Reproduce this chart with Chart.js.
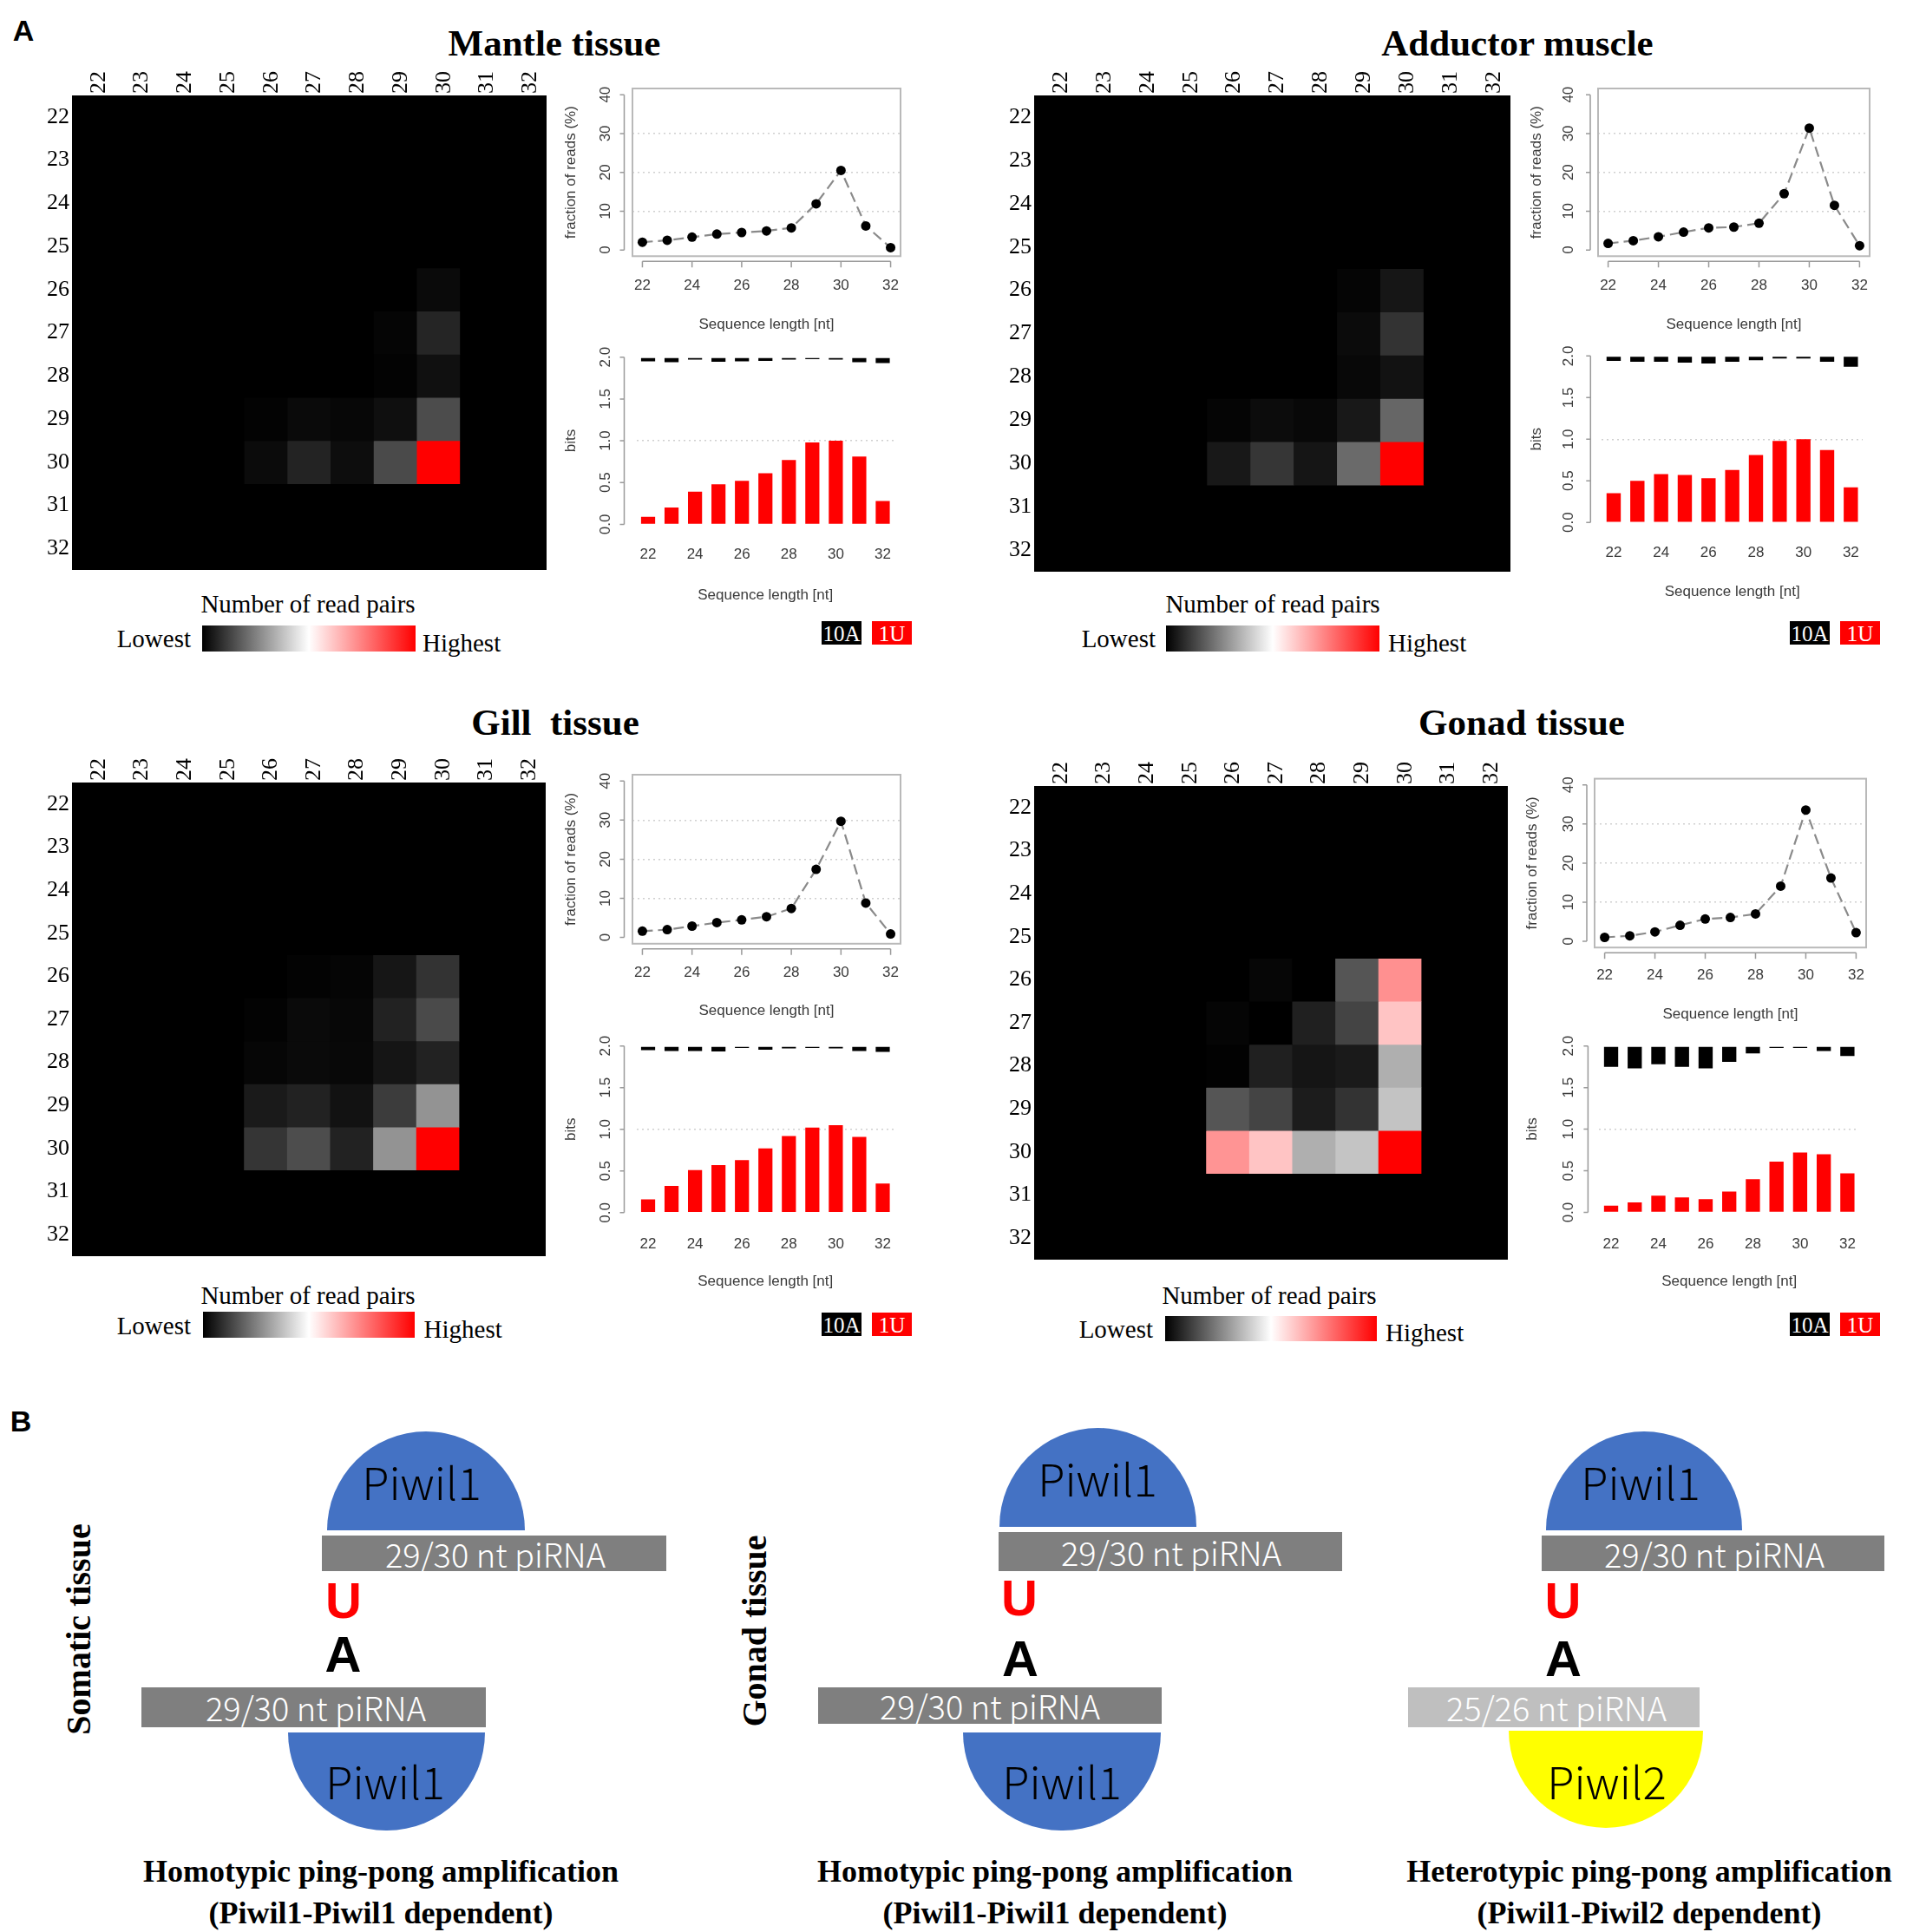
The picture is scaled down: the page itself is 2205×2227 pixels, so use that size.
<!DOCTYPE html>
<html>
<head>
<meta charset="utf-8">
<script src="https://cdn.jsdelivr.net/npm/chart.js@4.4.1/dist/chart.umd.min.js"></script>
<style>
body { margin: 0; background: #fff; }
#page { position: relative; width: 2205px; height: 2227px; overflow: hidden; background: #fff; }
#page canvas { position: absolute; }
.t { position: absolute; white-space: nowrap; line-height: 1; }
.box { position: absolute; }
</style>
</head>
<body>
<div id="page"></div>
<script>
// ---- data ----
const lengths = [22, 23, 24, 25, 26, 27, 28, 29, 30, 31, 32];
const evenTicks = [22, 24, 26, 28, 30, 32];
const fracTicks = [0, 10, 20, 30, 40];
const bitTicks = [0, 0.5, 1, 1.5, 2];
const A_TOP = 1.99;

// fraction of reads (%) per sequence length
const fracMantle   = [2.0, 2.5, 3.3, 4.1, 4.5, 4.9, 5.7, 11.9, 20.5, 6.2, 0.6];
const fracAdductor = [1.7, 2.4, 3.4, 4.6, 5.7, 5.9, 6.9, 14.5, 31.4, 11.5, 1.1];
const fracGill     = [1.6, 2.0, 2.9, 3.8, 4.5, 5.3, 7.4, 17.4, 29.7, 8.8, 0.9];
const fracGonad    = [1.0, 1.4, 2.4, 4.1, 5.7, 6.1, 7.0, 14.1, 33.6, 16.2, 2.2];

// bits of 1U (red bars)
const uMantle   = [0.09, 0.20, 0.39, 0.48, 0.52, 0.61, 0.77, 0.98, 1.00, 0.81, 0.28];
const uAdductor = [0.35, 0.50, 0.58, 0.57, 0.53, 0.63, 0.81, 0.98, 1.00, 0.87, 0.42];
const uGill     = [0.16, 0.32, 0.51, 0.57, 0.63, 0.77, 0.92, 1.02, 1.05, 0.91, 0.35];
const uGonad    = [0.08, 0.12, 0.20, 0.18, 0.16, 0.25, 0.40, 0.61, 0.72, 0.70, 0.47];

// lower edge of the 10A block (black), top at A_TOP
const aMantle   = [1.95, 1.94, 1.97, 1.945, 1.95, 1.955, 1.97, 1.975, 1.97, 1.94, 1.93];
const aAdductor = [1.94, 1.93, 1.93, 1.92, 1.91, 1.93, 1.95, 1.97, 1.97, 1.93, 1.87];
const aGill     = [1.95, 1.94, 1.94, 1.935, 1.975, 1.955, 1.97, 1.975, 1.97, 1.94, 1.93];
const aGonad    = [1.75, 1.73, 1.78, 1.75, 1.73, 1.81, 1.91, 1.975, 1.975, 1.94, 1.88];

// relative number of read pairs (0-100), rows = 22..32, cols = 22..32
const heatMantle = [
  [0, 0, 0, 0, 0, 0, 0, 0, 0, 0, 0],
  [0, 0, 0, 0, 0, 0, 0, 0, 0, 0, 0],
  [0, 0, 0, 0, 0, 0, 0, 0, 0, 0, 0],
  [0, 0, 0, 0, 0, 0, 0, 0, 0, 0, 0],
  [0, 0, 0, 0, 0, 0, 0, 0, 2.0, 0, 0],
  [0, 0, 0, 0, 0, 0, 0, 1.0, 7.3, 0, 0],
  [0, 0, 0, 0, 0, 0, 0, 0.6, 3.1, 0, 0],
  [0, 0, 0, 0, 0.6, 2.0, 1.4, 2.9, 14.9, 0, 0],
  [0, 0, 0, 0, 2.2, 6.9, 2.5, 14.5, 100, 0, 0],
  [0, 0, 0, 0, 0, 0, 0, 0, 0, 0, 0],
  [0, 0, 0, 0, 0, 0, 0, 0, 0, 0, 0]
];
const heatAdductor = [
  [0, 0, 0, 0, 0, 0, 0, 0, 0, 0, 0],
  [0, 0, 0, 0, 0, 0, 0, 0, 0, 0, 0],
  [0, 0, 0, 0, 0, 0, 0, 0, 0, 0, 0],
  [0, 0, 0, 0, 0, 0, 0, 0, 0, 0, 0],
  [0, 0, 0, 0, 0, 0, 0, 1.0, 4.3, 0, 0],
  [0, 0, 0, 0, 0, 0, 0, 2.2, 10.0, 0, 0],
  [0, 0, 0, 0, 0, 0, 0, 1.6, 3.5, 0, 0],
  [0, 0, 0, 0, 1.0, 2.4, 1.6, 4.7, 20.0, 0, 0],
  [0, 0, 0, 0, 4.7, 10.6, 4.1, 20.8, 100, 0, 0],
  [0, 0, 0, 0, 0, 0, 0, 0, 0, 0, 0],
  [0, 0, 0, 0, 0, 0, 0, 0, 0, 0, 0]
];
const heatGill = [
  [0, 0, 0, 0, 0, 0, 0, 0, 0, 0, 0],
  [0, 0, 0, 0, 0, 0, 0, 0, 0, 0, 0],
  [0, 0, 0, 0, 0, 0, 0, 0, 0, 0, 0],
  [0, 0, 0, 0, 0, 0, 0, 0, 0, 0, 0],
  [0, 0, 0, 0, 0, 0.6, 1.0, 4.3, 10.0, 0, 0],
  [0, 0, 0, 0, 0.6, 2.0, 1.4, 6.7, 14.5, 0, 0],
  [0, 0, 0, 0, 1.2, 2.0, 1.6, 4.1, 6.7, 0, 0],
  [0, 0, 0, 0, 5.1, 6.7, 3.5, 11.8, 28.8, 0, 0],
  [0, 0, 0, 0, 10.4, 15.1, 6.7, 28.8, 100, 0, 0],
  [0, 0, 0, 0, 0, 0, 0, 0, 0, 0, 0],
  [0, 0, 0, 0, 0, 0, 0, 0, 0, 0, 0]
];
const heatGonad = [
  [0, 0, 0, 0, 0, 0, 0, 0, 0, 0, 0],
  [0, 0, 0, 0, 0, 0, 0, 0, 0, 0, 0],
  [0, 0, 0, 0, 0, 0, 0, 0, 0, 0, 0],
  [0, 0, 0, 0, 0, 0, 0, 0, 0, 0, 0],
  [0, 0, 0, 0, 0, 1.2, 0, 16.7, 71.8, 0, 0],
  [0, 0, 0, 0, 1.0, 0, 6.3, 13.3, 61.6, 0, 0],
  [0, 0, 0, 0, 0.4, 6.3, 4.1, 5.1, 34.3, 0, 0],
  [0, 0, 0, 0, 16.7, 13.3, 5.5, 10.0, 38.2, 0, 0],
  [0, 0, 0, 0, 71.0, 61.6, 34.3, 38.4, 100, 0, 0],
  [0, 0, 0, 0, 0, 0, 0, 0, 0, 0, 0],
  [0, 0, 0, 0, 0, 0, 0, 0, 0, 0, 0]
];

// ---- layout ----
const panels = [
  { title: 'Mantle tissue', tx: 639, ty: 49,
    heat: heatMantle, hx: 83, hy: 110, hs: 547,
    frac: fracMantle, line: { L: 729, R: 1038, T: 102, B: 295.5, yTitleX: 658, yLabX: 698, xLabY: 330, xTitleY: 375, yGap: 9.5, xGap: 6 },
    u: uMantle, a: aMantle, bits: { L: 733.5, R: 1030.5, T: 404, B: 612.3, yTitleX: 658, yLabX: 698, xLabY: 640, xTitleY: 687, yGap: 14 },
    leg: { cx: 355, ny: 696, lowR: 220, lowY: 736, gL: 233, gR: 479, gT: 721, gB: 751, highL: 487, highY: 741 },
    keyX: 947, keyY: 716 },
  { title: 'Adductor muscle', tx: 1749, ty: 49,
    heat: heatAdductor, hx: 1192, hy: 110, hs: 549,
    frac: fracAdductor, line: { L: 1842, R: 2155, T: 102, B: 295.5, yTitleX: 1771, yLabX: 1808, xLabY: 330, xTitleY: 375, yGap: 9, xGap: 6 },
    u: uAdductor, a: aAdductor, bits: { L: 1846.3, R: 2146.7, T: 402.7, B: 610, yTitleX: 1771, yLabX: 1808, xLabY: 638, xTitleY: 683, yGap: 13 },
    leg: { cx: 1467, ny: 696, lowR: 1332, lowY: 736, gL: 1344, gR: 1590, gT: 721, gB: 751, highL: 1600, highY: 741 },
    keyX: 2063, keyY: 716 },
  { title: 'Gill\u00a0 tissue', tx: 640, ty: 832,
    heat: heatGill, hx: 83, hy: 902, hs: 546,
    frac: fracGill, line: { L: 729, R: 1038, T: 893, B: 1088, yTitleX: 658, yLabX: 698, xLabY: 1122, xTitleY: 1166, yGap: 9.5, xGap: 6 },
    u: uGill, a: aGill, bits: { L: 733.5, R: 1030.5, T: 1198, B: 1405.7, yTitleX: 658, yLabX: 698, xLabY: 1435, xTitleY: 1478, yGap: 14 },
    leg: { cx: 355, ny: 1493, lowR: 220, lowY: 1528, gL: 233.5, gR: 478, gT: 1512, gB: 1542, highL: 488.6, highY: 1532 },
    keyX: 947, keyY: 1513 },
  { title: 'Gonad tissue', tx: 1754, ty: 832,
    heat: heatGonad, hx: 1192, hy: 906, hs: 546,
    frac: fracGonad, line: { L: 1838, R: 2151, T: 897.6, B: 1092.4, yTitleX: 1766, yLabX: 1808, xLabY: 1125, xTitleY: 1170, yGap: 9, xGap: 6 },
    u: uGonad, a: aGonad, bits: { L: 1843.4, R: 2142.6, T: 1198, B: 1405.4, yTitleX: 1766, yLabX: 1808, xLabY: 1435, xTitleY: 1478, yGap: 13 },
    leg: { cx: 1463, ny: 1493, lowR: 1329, lowY: 1532, gL: 1342.5, gR: 1587, gT: 1517, gB: 1546, highL: 1597, highY: 1536 },
    keyX: 2063, keyY: 1513 }
];

const SERIF = '"Liberation Serif", "Times New Roman", serif';
const SANS = '"Liberation Sans", Arial, sans-serif';
const CJK = '"Noto Sans CJK SC", "Noto Sans", sans-serif';
const RSIZE = 17;
const RFONT = { family: SANS, size: RSIZE };
const RCOL = '#3a3a3a';
const LH = RSIZE * 1.2;

const page = document.getElementById('page');
const mctx = document.createElement('canvas').getContext('2d');
function textW(s, size, family) {
  mctx.font = size + 'px ' + family;
  return mctx.measureText(s).width;
}

function addCanvas(l, t, w, h) {
  const c = document.createElement('canvas');
  c.width = Math.round(w);
  c.height = Math.round(h);
  c.style.left = l + 'px';
  c.style.top = t + 'px';
  c.style.width = c.width + 'px';
  c.style.height = c.height + 'px';
  page.appendChild(c);
  return c;
}

function addText(txt, x, y, css, align, rot) {
  const d = document.createElement('div');
  d.className = 't';
  d.textContent = txt;
  Object.assign(d.style, css);
  d.style.left = x + 'px';
  d.style.top = y + 'px';
  const tx = align === 'left' ? '0' : align === 'right' ? '-100%' : '-50%';
  d.style.transform = 'translate(' + tx + ',-50%)' + (rot ? ' rotate(' + rot + 'deg)' : '');
  page.appendChild(d);
  return d;
}

function addBox(l, t, w, h, css) {
  const d = document.createElement('div');
  d.className = 'box';
  Object.assign(d.style, { left: l + 'px', top: t + 'px', width: w + 'px', height: h + 'px' }, css);
  page.appendChild(d);
  return d;
}

const fit = (w, h) => s => {
  if (w != null) s.width = w;
  if (h != null) s.height = h;
  s.paddingLeft = s.paddingRight = s.paddingTop = s.paddingBottom = 0;
};
const setTicks = vals => s => { s.ticks = vals.map(v => ({ value: v })); };

function heatColor(v) {
  const t = v / 100;
  if (t <= 0.5) {
    const g = Math.round(255 * t / 0.5);
    return 'rgb(' + g + ',' + g + ',' + g + ')';
  }
  const k = Math.round(255 * (1 - (t - 0.5) / 0.5));
  return 'rgb(255,' + k + ',' + k + ')';
}

// R-like detached axes and frame
const rAxes = {
  id: 'rAxes',
  afterDatasetsDraw(chart, args, o) {
    const { ctx, chartArea: a } = chart;
    const x = chart.scales.x, y = chart.scales.y;
    ctx.save();
    if (o.box) {
      ctx.strokeStyle = '#b9b9b9';
      ctx.lineWidth = 2;
      ctx.strokeRect(a.left, a.top, a.width, a.height);
    }
    ctx.strokeStyle = '#9a9a9a';
    ctx.lineWidth = 1.5;
    ctx.beginPath();
    const ax = a.left - o.yGap;
    const yp = y.ticks.map(t => y.getPixelForValue(t.value));
    ctx.moveTo(ax, yp[0]);
    ctx.lineTo(ax, yp[yp.length - 1]);
    yp.forEach(p => { ctx.moveTo(ax, p); ctx.lineTo(ax - 5, p); });
    if (o.xGap != null) {
      const ay = a.bottom + o.xGap;
      const xp = x.ticks.map(t => x.getPixelForValue(t.value));
      ctx.moveTo(xp[0], ay);
      ctx.lineTo(xp[xp.length - 1], ay);
      xp.forEach(p => { ctx.moveTo(p, ay); ctx.lineTo(p, ay + 7); });
    }
    ctx.stroke();
    ctx.restore();
  }
};

const heatBg = {
  id: 'heatBg',
  beforeDatasetsDraw(chart) {
    const { ctx, chartArea: a } = chart;
    ctx.save();
    ctx.fillStyle = '#000';
    ctx.fillRect(a.left, a.top, a.width, a.height);
    ctx.restore();
  }
};

const baseOpts = {
  responsive: false, animation: false, devicePixelRatio: 1,
  events: []
};

function drawHeat(p) {
  const yW = 52, xH = 44;
  const cv = addCanvas(p.hx - yW, p.hy - xH, yW + p.hs + 3, xH + p.hs + 3);
  const datasets = p.heat.map((row, r) => ({
    data: row.map(() => [lengths[r] - 0.5, lengths[r] + 0.5]),
    backgroundColor: row.map(heatColor),
    borderWidth: 0, borderSkipped: false,
    grouped: false, barPercentage: 1, categoryPercentage: 1
  }));
  const tickFont = { family: SERIF, size: 26 };
  new Chart(cv, {
    type: 'bar',
    data: { labels: lengths.map(String), datasets },
    options: Object.assign({}, baseOpts, {
      layout: { padding: { left: 0, top: 0, right: 3, bottom: 3 } },
      plugins: { legend: { display: false }, tooltip: { enabled: false } },
      scales: {
        x: { position: 'top', afterFit: fit(null, xH),
             grid: { display: false, drawTicks: false, tickLength: 0 }, border: { display: false },
             ticks: { minRotation: 90, maxRotation: 90, autoSkip: false, padding: 2, labelOffset: tickFont.size * 1.2 + 6,
                      font: tickFont, color: '#000' } },
        y: { min: 21.5, max: 32.5, reverse: true, afterBuildTicks: setTicks(lengths), afterFit: fit(yW, null),
             grid: { display: false, drawTicks: false, tickLength: 0 }, border: { display: false },
             ticks: { padding: 3, font: tickFont, color: '#000' } }
      }
    }),
    plugins: [heatBg]
  });
}

function frame(b) {
  const L0 = Math.round(b.yTitleX - LH / 2);
  const T0 = Math.round(b.T - 14);
  const xH = b.xTitleY - b.B + LH / 2;
  return { L0, T0, xH, yW: b.L - L0, W: b.R - L0 + 14, H: (b.B - T0) + xH + 2 };
}
function yPad(b, labels) {
  const w = Math.max(...labels.map(s => textW(s, RSIZE, SANS)));
  return (b.L - b.yLabX) - w / 2;
}

function drawFrac(p) {
  const b = p.line, f = frame(b);
  const cv = addCanvas(f.L0, f.T0, f.W, f.H);
  new Chart(cv, {
    type: 'line',
    data: { datasets: [{
      data: lengths.map((x, i) => ({ x, y: p.frac[i] })),
      borderColor: '#8a8a8a', borderWidth: 2.2, borderDash: [12, 6], tension: 0, fill: false,
      pointRadius: 5.5, pointBackgroundColor: '#000', pointBorderWidth: 0
    }] },
    options: Object.assign({}, baseOpts, {
      layout: { padding: { left: 0, top: b.T - f.T0, right: 14, bottom: 2 } },
      plugins: { legend: { display: false }, tooltip: { enabled: false }, rAxes: { box: true, yGap: b.yGap, xGap: b.xGap } },
      scales: {
        x: { type: 'linear', min: 21.6, max: 32.4, afterBuildTicks: setTicks(evenTicks), afterFit: fit(null, f.xH),
             grid: { display: false, drawTicks: false, tickLength: 0 }, border: { display: false },
             ticks: { padding: b.xLabY - b.B - LH / 2, font: RFONT, color: RCOL, maxRotation: 0, autoSkip: false },
             title: { display: true, text: 'Sequence length [nt]', font: RFONT, color: RCOL, padding: 0 } },
        y: { type: 'linear', min: -1.6, max: 41.6, afterBuildTicks: setTicks(fracTicks), afterFit: fit(f.yW, null),
             grid: { color: c => (c.tick && [10, 20, 30].includes(c.tick.value)) ? '#d0d0d0' : 'rgba(0,0,0,0)',
                     lineWidth: 1.5, drawTicks: false, tickLength: 0, borderDash: [2, 4] },
             border: { display: false, dash: [2, 4] },
             ticks: { padding: yPad(b, fracTicks.map(String)), font: RFONT, color: RCOL, minRotation: 90, maxRotation: 90, crossAlign: 'center' },
             title: { display: true, text: 'fraction of reads (%)', font: RFONT, color: RCOL, padding: 0 } }
      }
    }),
    plugins: [rAxes]
  });
}

function drawBits(p) {
  const b = p.bits, f = frame(b);
  const cv = addCanvas(f.L0, f.T0, f.W, f.H);
  const barOpts = { grouped: false, barPercentage: 0.6, categoryPercentage: 1, borderWidth: 0 };
  new Chart(cv, {
    type: 'bar',
    data: { labels: lengths.map(String), datasets: [
      Object.assign({ label: '1U', data: p.u, backgroundColor: '#ff0000' }, barOpts),
      Object.assign({ label: '10A', data: p.a.map(v => [v, A_TOP]), backgroundColor: '#000', borderSkipped: false }, barOpts)
    ] },
    options: Object.assign({}, baseOpts, {
      layout: { padding: { left: 0, top: b.T - f.T0, right: 14, bottom: 2 } },
      plugins: { legend: { display: false }, tooltip: { enabled: false }, rAxes: { box: false, yGap: b.yGap } },
      scales: {
        x: { afterFit: fit(null, f.xH),
             grid: { display: false, drawTicks: false, tickLength: 0 }, border: { display: false },
             ticks: { padding: b.xLabY - b.B - LH / 2, font: RFONT, color: RCOL, maxRotation: 0, autoSkip: false,
                      callback: (v, i) => (i % 2 === 0 ? lengths[i] : '') },
             title: { display: true, text: 'Sequence length [nt]', font: RFONT, color: RCOL, padding: 0 } },
        y: { min: -0.08, max: 2.08, afterBuildTicks: setTicks(bitTicks), afterFit: fit(f.yW, null),
             grid: { color: c => (c.tick && c.tick.value === 1) ? '#d0d0d0' : 'rgba(0,0,0,0)',
                     lineWidth: 1.5, drawTicks: false, tickLength: 0, borderDash: [2, 4] },
             border: { display: false, dash: [2, 4] },
             ticks: { padding: yPad(b, bitTicks.map(v => v.toFixed(1))), font: RFONT, color: RCOL, minRotation: 90, maxRotation: 90, crossAlign: 'center',
                      callback: v => v.toFixed(1) },
             title: { display: true, text: 'bits', font: RFONT, color: RCOL, padding: 0 } }
      }
    }),
    plugins: [rAxes]
  });
}

const titleCss = { fontFamily: SERIF, fontWeight: 'bold', fontSize: '43px', color: '#000' };
const legCss = { fontFamily: SERIF, fontSize: '29px', color: '#000' };
const keyCss = { fontFamily: SERIF, fontSize: '25px', color: '#fff' };

panels.forEach(p => {
  addText(p.title, p.tx, p.ty, titleCss);
  drawHeat(p);
  drawFrac(p);
  drawBits(p);
  const g = p.leg;
  addText('Number of read pairs', g.cx, g.ny, legCss);
  addText('Lowest', g.lowR, g.lowY, legCss, 'right');
  addText('Highest', g.highL, g.highY, legCss, 'left');
  addBox(g.gL, g.gT, g.gR - g.gL, g.gB - g.gT, { background: 'linear-gradient(to right, #000 0%, #fff 50%, #ff0000 100%)' });
  addBox(p.keyX, p.keyY, 46, 27, { background: '#000' });
  addText('10A', p.keyX + 23, p.keyY + 14, keyCss);
  addBox(p.keyX + 58, p.keyY, 46, 27, { background: '#ff0000' });
  addText('1U', p.keyX + 81, p.keyY + 14, keyCss);
});

const panelCss = { fontFamily: SANS, fontWeight: 'bold', fontSize: '34px', color: '#000' };
addText('A', 27, 35, panelCss);
addText('B', 24, 1638, panelCss);

// ---- panel B diagrams ----
const diagrams = [
  { top: { l: 376.5, t: 1650, w: 228, h: 114, c: '#4472c4', label: 'Piwil1', lx: 486, ly: 1707 },
    bar1: { l: 371, t: 1770, w: 397, h: 41, c: '#7f7f7f', label: '29/30 nt piRNA', lx: 571 },
    u: { x: 396, y: 1845 }, a: { x: 395.5, y: 1907 },
    bar2: { l: 163, t: 1945, w: 397, h: 46, c: '#7f7f7f', label: '29/30 nt piRNA', lx: 364 },
    bot: { l: 332, t: 1997, w: 227, h: 113, c: '#4472c4', label: 'Piwil1', lx: 444, ly: 2052 },
    cap: ['Homotypic ping-pong amplification', '(Piwil1-Piwil1 dependent)'], cx: 439 },
  { top: { l: 1152, t: 1646, w: 227, h: 114, c: '#4472c4', label: 'Piwil1', lx: 1265, ly: 1703 },
    bar1: { l: 1151, t: 1766, w: 396, h: 45, c: '#7f7f7f', label: '29/30 nt piRNA', lx: 1350 },
    u: { x: 1175, y: 1842 }, a: { x: 1176, y: 1912 },
    bar2: { l: 942.5, t: 1945, w: 396, h: 42, c: '#7f7f7f', label: '29/30 nt piRNA', lx: 1141 },
    bot: { l: 1110, t: 1997, w: 228, h: 113, c: '#4472c4', label: 'Piwil1', lx: 1224, ly: 2052 },
    cap: ['Homotypic ping-pong amplification', '(Piwil1-Piwil1 dependent)'], cx: 1216 },
  { top: { l: 1782, t: 1650, w: 226, h: 114, c: '#4472c4', label: 'Piwil1', lx: 1891, ly: 1707 },
    bar1: { l: 1777, t: 1770, w: 395, h: 41, c: '#7f7f7f', label: '29/30 nt piRNA', lx: 1976 },
    u: { x: 1801.5, y: 1845 }, a: { x: 1802, y: 1912 },
    bar2: { l: 1622.5, t: 1945, w: 336.5, h: 46, c: '#bfbfbf', label: '25/26 nt piRNA', lx: 1794 },
    bot: { l: 1739, t: 1995, w: 224, h: 112, c: '#ffff00', label: 'Piwil2', lx: 1852, ly: 2052 },
    cap: ['Heterotypic ping-pong amplification', '(Piwil1-Piwil2 dependent)'], cx: 1901 }
];

const proCss = { fontFamily: CJK, fontWeight: '300', fontSize: '51px', color: '#000' };
const rnaCss = { fontFamily: CJK, fontWeight: '300', fontSize: '38px', color: '#fff' };
const baseCss = { fontFamily: SANS, fontWeight: 'bold', fontSize: '58px' };
const capCss = { fontFamily: SERIF, fontWeight: 'bold', fontSize: '36px', color: '#000' };

diagrams.forEach(d => {
  const tp = d.top, bt = d.bot;
  addBox(tp.l, tp.t, tp.w, tp.h, { background: tp.c, borderRadius: (tp.w / 2) + 'px ' + (tp.w / 2) + 'px 0 0' });
  addText(tp.label, tp.lx, tp.ly, proCss);
  addBox(bt.l, bt.t, bt.w, bt.h, { background: bt.c, borderRadius: '0 0 ' + (bt.w / 2) + 'px ' + (bt.w / 2) + 'px' });
  addText(bt.label, bt.lx, bt.ly, proCss);
  [d.bar1, d.bar2].forEach(r => {
    addBox(r.l, r.t, r.w, r.h, { background: r.c });
    addText(r.label, r.lx, r.t + r.h / 2, rnaCss);
  });
  addText('U', d.u.x, d.u.y, Object.assign({ color: '#ff0000' }, baseCss));
  addText('A', d.a.x, d.a.y, Object.assign({ color: '#000' }, baseCss));
  addText(d.cap[0], d.cx, 2157, capCss);
  addText(d.cap[1], d.cx, 2205, capCss);
});

const sideCss = { fontFamily: SERIF, fontWeight: 'bold', fontSize: '40px', color: '#000' };
addText('Somatic tissue', 91, 1878, sideCss, 'center', -90);
addText('Gonad tissue', 870, 1880, sideCss, 'center', -90);
</script>
</body>
</html>
